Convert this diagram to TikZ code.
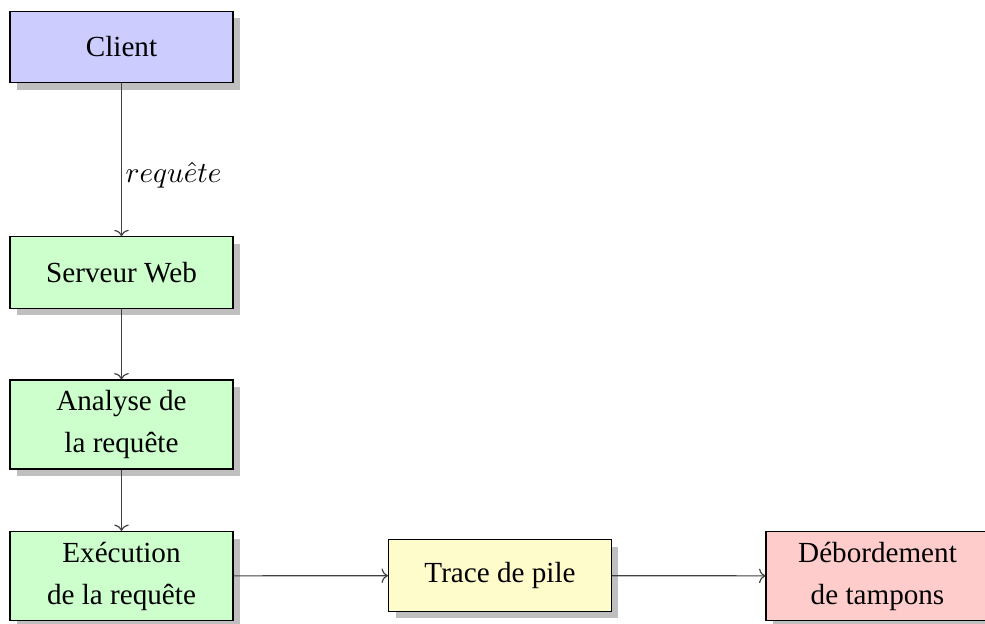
\documentclass[tikz,border=0pt]{standalone}
\usepackage{fontspec}
\setmainfont{Liberation Serif}
\usetikzlibrary{shadows,arrows.meta}
\begin{document}
\begin{tikzpicture}[x=0.3431pt,y=-0.3431pt,
  box/.style={draw=black, line width=0.4pt, inner sep=0pt, align=center,
    minimum width=76.5pt,
    font=\fontsize{10}{14.4}\selectfont,
    drop shadow={shadow xshift=2.4pt, shadow yshift=-2.4pt, fill=black!25, opacity=1}},
  one/.style={minimum height=24.5pt},
  two/.style={minimum height=30.5pt},
  conn/.style={draw=black!75, line width=0.4pt, -{To[length=2.2pt,width=5pt]}}]
\useasboundingbox (0,0) rectangle (985,623);
\node[box, one, fill=blue!20] (client) at (121.5,47) {Client};
\node[box, one, fill=green!20] (web) at (121.5,272.5) {Serveur Web};
\node[box, two, fill=green!20] (analyse) at (121.5,424.5) {Analyse de\\la requête};
\node[box, two, fill=green!20] (exec) at (121.5,576) {Exécution\\de la requête};
\node[box, one, fill=yellow!20] (trace) at (500,575.5) {Trace de pile};
\node[box, two, fill=red!20] (debord) at (877.5,576) {Débordement\\de tampons};
\draw[conn] (client) -- node[pos=0.6, anchor=west, inner sep=1.2pt, font=\fontsize{10}{12}\selectfont] (lbl) {$requ\hat{e}te$} (web);
\draw[conn] (web) -- (analyse);
\draw[conn] (analyse) -- (exec);
\draw[conn] (exec) -- (trace);
\draw[conn] (trace) -- (debord);
\end{tikzpicture}
\end{document}
